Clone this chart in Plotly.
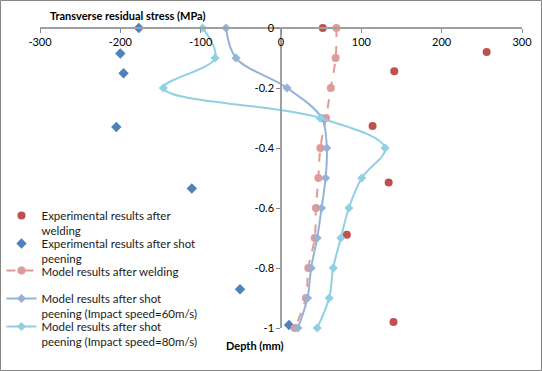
import plotly.graph_objects as go

# Experimental results after welding
exp_weld_stress = [52, 256, 141, 114, 134, 82, 140]
exp_weld_depth = [0, -0.08, -0.144, -0.327, -0.515, -0.689, -0.98]

# Experimental results after shot peening
exp_sp_stress = [-177, -200, -196, -205, -111, -51, 10]
exp_sp_depth = [0, -0.085, -0.151, -0.33, -0.535, -0.871, -0.99]

# Model results (depth levels)
model_depth = [0, -0.1, -0.2, -0.3, -0.4, -0.5, -0.6, -0.7, -0.8, -0.9, -1.0]
model_weld = [69, 68, 62, 56, 49, 46.5, 43.5, 42, 34, 31, 17]
model_sp60 = [-68.5, -56, 7.5, 50.5, 57, 55.5, 50.5, 45, 37.5, 33, 21]
model_sp80 = [-97.5, -82, -146.5, 48.5, 129.5, 100.5, 84.5, 74.5, 65, 60, 45]

x_ticks = [-300, -200, -100, 0, 100, 200, 300]
y_ticks = [0, -0.2, -0.4, -0.6, -0.8, -1.0]
y_tick_labels = ["0", "-0.2", "-0.4", "-0.6", "-0.8", "-1"]

FONT = "Lato"

fig = go.Figure()
fig.add_trace(go.Scatter(
    x=exp_weld_stress, y=exp_weld_depth, mode="markers", legend="legend",
    name="Experimental results after<br>welding",
    marker=dict(symbol="circle", size=8, color="#C0504D"), cliponaxis=False))
fig.add_trace(go.Scatter(
    x=exp_sp_stress, y=exp_sp_depth, mode="markers", legend="legend2",
    name="Experimental results after shot<br>peening",
    marker=dict(symbol="diamond", size=8, color="#4F81BD"), cliponaxis=False))
fig.add_trace(go.Scatter(
    x=model_weld, y=model_depth, mode="lines+markers", legend="legend3",
    name="Model results after welding",
    line=dict(color="#E09A98", width=2, dash="dash", shape="spline"),
    marker=dict(symbol="circle", size=8, color="#E09A98"), cliponaxis=False))
fig.add_trace(go.Scatter(
    x=model_sp60, y=model_depth, mode="lines+markers", legend="legend4",
    name="Model results after shot<br>peening (Impact speed=60m/s)",
    line=dict(color="#95B3D7", width=2, shape="spline"),
    marker=dict(symbol="diamond", size=7, color="#95B3D7"), cliponaxis=False))
fig.add_trace(go.Scatter(
    x=model_sp80, y=model_depth, mode="lines+markers", legend="legend5",
    name="Model results after shot<br>peening (Impact speed=80m/s)",
    line=dict(color="#8FD0E2", width=2, shape="spline"),
    marker=dict(symbol="diamond", size=7, color="#8FD0E2"), cliponaxis=False))


def leg(center_px):
    top = center_px - 12.5
    return dict(x=(1.5 - 40) / 482, y=(328 - top) / 300, xanchor="left", yanchor="top",
                bgcolor="rgba(0,0,0,0)", valign="top", itemwidth=30,
                font=dict(family=FONT, size=11.5, color="#1a1a1a"))


fig.update_layout(
    width=542, height=371,
    margin=dict(l=40, r=20, t=28, b=43, autoexpand=False),
    paper_bgcolor="white", plot_bgcolor="white",
    font=dict(family=FONT, size=11, color="#000000"),
    showlegend=True,
    legend=leg(214), legend2=leg(242), legend3=leg(269), legend4=leg(297), legend5=leg(325),
    xaxis=dict(range=[-300, 300], side="bottom", anchor="free", position=1,
               tickvals=x_ticks, ticktext=[str(v) for v in x_ticks],
               ticks="outside", ticklen=4, automargin=False,
               tickcolor="#868686", showline=True, linecolor="#A0A0A0",
               linewidth=1.5, showgrid=False, zeroline=False,
               tickfont=dict(size=11)),
    yaxis=dict(range=[-1, 0], tickvals=y_ticks, ticktext=y_tick_labels,
               anchor="free", position=0.5, ticks="outside", ticklen=4,
               automargin=False,
               tickcolor="#868686", showline=True, linecolor="#A0A0A0",
               linewidth=1.5, showgrid=False, zeroline=False,
               tickfont=dict(size=11)),
    annotations=[
        dict(text="<b>Transverse residual stress (MPa)</b>", xref="paper", yref="paper",
             x=(48 - 40) / 482, y=(328 - 16) / 300, xanchor="left", yanchor="middle",
             showarrow=False, font=dict(size=11)),
        dict(text="<b>Depth (mm)</b>", xref="paper", yref="paper",
             x=(255 - 40) / 482, y=(328 - 345) / 300, xanchor="center", yanchor="middle",
             showarrow=False, font=dict(size=11)),
    ],
    shapes=[dict(type="rect", xref="paper", yref="paper",
                 x0=-39.5 / 482, x1=501.5 / 482, y0=(328 - 370.5) / 300, y1=(328 - 0.5) / 300,
                 line=dict(color="#868686", width=1), fillcolor="rgba(0,0,0,0)", layer="below")],
)

fig.write_html("out.html", config={"displayModeBar": False},
               post_script="document.body.style.margin='0px';document.body.style.overflow='hidden';")
